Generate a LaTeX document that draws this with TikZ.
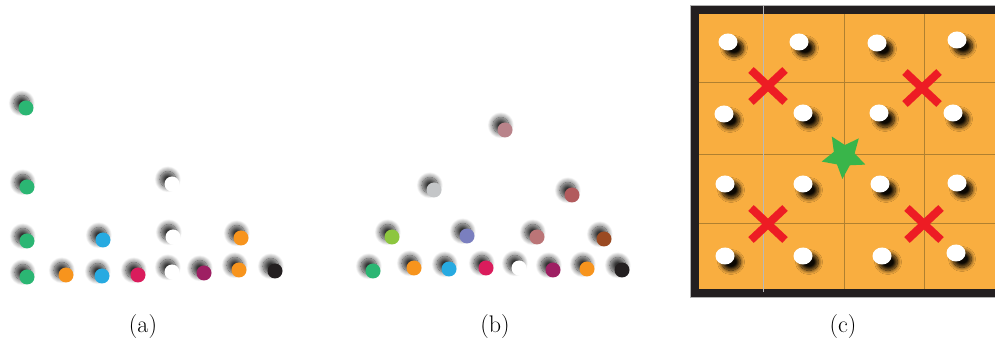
\documentclass[tikz,border=0pt]{standalone}
\usepackage{fontspec}
\usepackage{xcolor}
\usepackage{tikz}
\usetikzlibrary{shapes.geometric, shadows.blur}

\definecolor{cGreen}{HTML}{2BB673}
\definecolor{cOrange}{HTML}{F7941D}
\definecolor{cBlue}{HTML}{27AAE1}
\definecolor{cCrimson}{HTML}{DA1C5C}
\definecolor{cPurple}{HTML}{9E1F63}
\definecolor{cBlack}{HTML}{231F20}
\definecolor{cRosy}{HTML}{B9838A}
\definecolor{cSilver}{HTML}{C4C6C8}
\definecolor{cBrick}{HTML}{B25B5D}
\definecolor{cLime}{HTML}{8DC63F}
\definecolor{cLavender}{HTML}{7A7FBF}
\definecolor{cPinkish}{HTML}{BB7577}
\definecolor{cBrown}{HTML}{9B4A22}
\definecolor{cBoard}{HTML}{F9AE40}
\definecolor{cLine}{HTML}{B08030}
\definecolor{cCross}{HTML}{ED1C24}
\definecolor{cStar}{HTML}{39B54A}

\begin{document}
\begin{tikzpicture}[x=1pt, y=-1pt,
    ball/.style={circle, inner sep=0pt, minimum size=15pt,
        blur shadow={shadow xshift=-4pt, shadow yshift=4.5pt,
            shadow scale=1.05, shadow blur radius=5pt,
            shadow blur steps=12, shadow opacity=80}},
    peg/.style={ellipse, fill=white, inner sep=0pt,
        minimum width=19pt, minimum height=17pt,
        blur shadow={shadow xshift=6pt, shadow yshift=-6pt,
            shadow blur radius=4pt, shadow blur steps=10,
            shadow opacity=95}},
    cross/.style={line width=8pt, cCross},
    caption/.style={font=\fontsize{24}{28}\selectfont}]
    \useasboundingbox (0,0) rectangle (995,344);
    \clip (0,0) rectangle (995,344);

    % Hình (a)
    \foreach \px/\py/\c [count=\i] in {26/108/cGreen, 27/187/cGreen,
        27/241/cGreen, 27/277/cGreen, 66/275/cOrange, 102/276/cBlue,
        138/275/cCrimson, 172/272/white, 204/273/cPurple, 239/270/cOrange,
        275/271/cBlack, 103/240/cBlue, 173/237/white, 241/238/cOrange,
        172/184/white}
        \node[ball, fill=\c] (a\i) at (\px,\py) {};

    % Hình (b)
    \foreach \px/\py/\c [count=\i] in {373/271/cGreen, 414/268/cOrange,
        449/269/cBlue, 486/268/cCrimson, 519/268/white, 553/270/cPurple,
        587/269/cOrange, 622/270/cBlack, 392/237/cLime, 467/236/cLavender,
        537/237/cPinkish, 604/239/cBrown, 434/190/cSilver, 572/195/cBrick,
        505/130/cRosy}
        \node[ball, fill=\c] (b\i) at (\px,\py) {};

    % Hình (c): bàn cờ
    \fill[cBoard] (698,14) rectangle (1020,289);
    \foreach \gx in {844,924}
        \draw[cLine, line width=1pt] (\gx,14) -- (\gx,289);
    \foreach \gy in {83,155,224}
        \draw[cLine, line width=1pt] (698,\gy) -- (1020,\gy);

    % Các chốt trắng
    \foreach \px/\py [count=\i] in {728/42, 799/42, 877/43, 957/40,
        724/114, 803/113, 879/113, 953/113,
        725/184, 803/184, 880/184, 957/183,
        725/256, 803/256, 882/256, 956/253}
        \node[peg] (p\i) at (\px,\py) {};

    % Khung viền
    \draw[cBlack, line width=8.5pt] (694.25,9.5) rectangle (1030,293);
    \draw[gray!60, line width=0.6pt] (690,5) rectangle (1035,297.5);
    \draw[gray!55, line width=1pt] (763,5) -- (763,292);

    % Dấu X và ngôi sao
    \foreach \cx/\cy in {768/86, 922/88, 768/224, 924/224} {
        \draw[cross] (\cx-17,\cy-16) -- (\cx+17,\cy+16);
        \draw[cross] (\cx-17,\cy+16) -- (\cx+17,\cy-16);
    }
    \node[star, star points=5, star point ratio=2.1, minimum size=46pt,
        inner sep=0pt, fill=cStar, rotate=-40] (goal) at (844,156) {};

    % Nhãn
    \node[caption] (la) at (143,327) {(a)};
    \node[caption] (lb) at (495,327) {(b)};
    \node[caption] (lc) at (843,327) {(c)};
\end{tikzpicture}
\end{document}
